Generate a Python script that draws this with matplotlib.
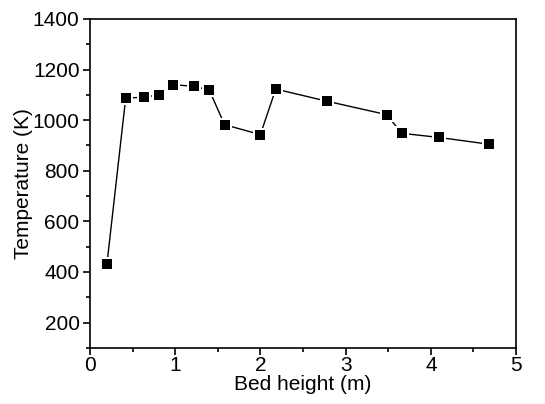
import matplotlib.pyplot as plt
from matplotlib.ticker import MultipleLocator

plt.rcParams['font.family'] = ['Liberation Sans', 'DejaVu Sans']

# temperature profile along the bed
bed_height = [0.20, 0.42, 0.63, 0.81, 0.98, 1.22, 1.40, 1.58, 2.00, 2.18,
              2.78, 3.48, 3.66, 4.09, 4.68]
temperature = [433, 1088, 1090, 1101, 1140, 1134, 1119, 982, 943, 1123,
               1075, 1022, 948, 932, 905]

fig = plt.figure(figsize=(5.45, 4.04), dpi=100)
ax = fig.add_axes([0.165, 0.139, 0.782, 0.814])

ax.plot(bed_height, temperature, color='black', linewidth=1.0, zorder=2)
# white halo so the line stops short of each marker
ax.plot(bed_height, temperature, linestyle='none', marker='s', markersize=10,
        color='white', markeredgewidth=0, zorder=3)
ax.plot(bed_height, temperature, linestyle='none', marker='s', markersize=6.5,
        color='black', markeredgewidth=0, zorder=4)

ax.set_xlim(0, 5)
ax.set_ylim(100, 1400)
ax.xaxis.set_major_locator(MultipleLocator(1))
ax.xaxis.set_minor_locator(MultipleLocator(0.5))
ax.yaxis.set_major_locator(MultipleLocator(200))
ax.yaxis.set_minor_locator(MultipleLocator(100))

ax.tick_params(which='both', direction='out', width=1.2, labelsize=15,
               top=False, right=False)
ax.tick_params(axis='x', pad=1)
ax.tick_params(axis='y', pad=2.5)
ax.tick_params(which='major', length=5)
ax.tick_params(which='minor', length=3)
for s in ax.spines.values():
    s.set_linewidth(1.2)

ax.set_xlabel('Bed height (m)', fontsize=15, labelpad=0)
ax.set_ylabel('Temperature (K)', fontsize=15, labelpad=0)

fig.savefig('out.png', dpi=100)
